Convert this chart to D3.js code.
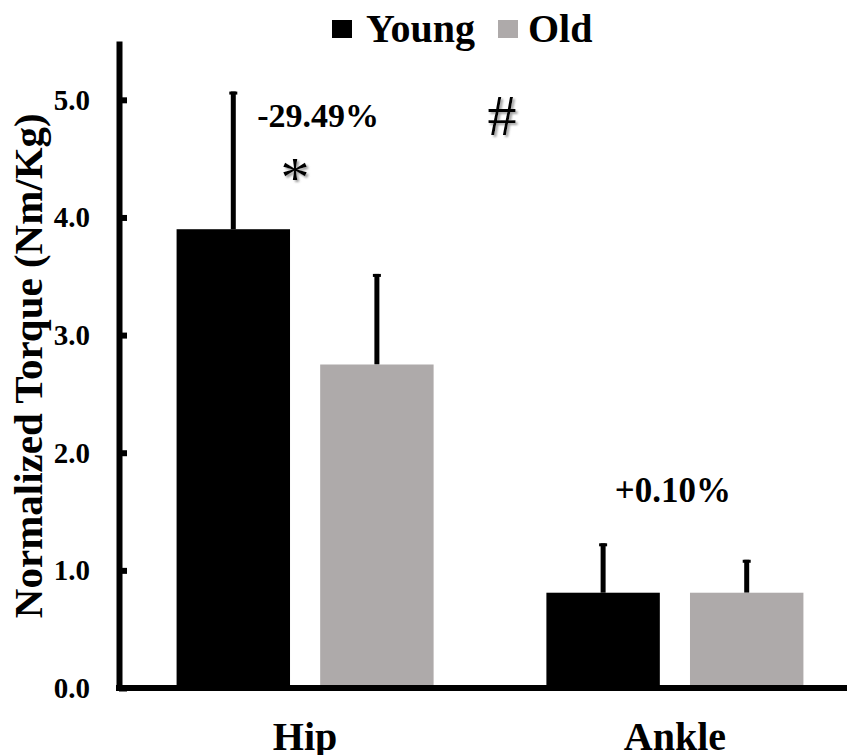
<!DOCTYPE html>
<html>
<head>
<meta charset="utf-8">
<script src="https://cdn.jsdelivr.net/npm/d3@7"></script>
<style>
    body { margin: 0; background: white; }
    svg text { font-family: "Liberation Serif", "Times New Roman", serif; font-weight: bold; fill: black; }
</style>
</head>
<body>
<div id="chart"></div>
<script>
const joints = ["Hip", "Ankle"]
const groups = ["Young", "Old"]
const meanTorque = {Hip: [3.90, 2.75], Ankle: [0.81, 0.81]}
const sdTorque = {Hip: [1.17, 0.77], Ankle: [0.42, 0.28]}
const yTicks = [0, 1, 2, 3, 4, 5]
const changeLabels = ["-29.49%", "+0.10%"]

const colors = {Young: "#000000", Old: "#aeaaaa"}

const width = 847, height = 755

const svg = d3.select("#chart").append("svg")
    .attr("width", width)
    .attr("height", height)

// soft shadow used on the * and # marks
svg.append("defs").append("filter")
    .attr("id", "shadow")
    .append("feDropShadow")
    .attr("dx", 2).attr("dy", 2).attr("stdDeviation", 1)
    .attr("flood-color", "#888").attr("flood-opacity", 0.8)

const x0 = d3.scaleBand()
    .domain(joints)
    .range([120, 860])
    .paddingInner(0.305)
    .paddingOuter(0.153)

const x1 = d3.scaleBand()
    .domain(groups)
    .range([0, x0.bandwidth()])
    .paddingInner(0.21)

const y = d3.scaleLinear()
    .domain([0, 5.5])
    .range([688, 41])

// bars + error bars
const rows = joints.flatMap(j => groups.map((g, i) => ({joint: j, group: g, mean: meanTorque[j][i], sd: sdTorque[j][i]})))

const bar = svg.append("g").selectAll("g")
    .data(rows).enter().append("g")
    .attr("transform", d => "translate(" + (x0(d.joint) + x1(d.group)) + ",0)")

bar.append("line")
    .attr("x1", x1.bandwidth() / 2)
    .attr("x2", x1.bandwidth() / 2)
    .attr("y1", d => y(d.mean))
    .attr("y2", d => y(d.mean + d.sd))
    .attr("stroke", "black")
    .attr("stroke-width", 5)

bar.append("rect")
    .attr("x", x1.bandwidth() / 2 - 4)
    .attr("y", d => y(d.mean + d.sd))
    .attr("width", 8)
    .attr("height", 3)
    .attr("fill", "black")

bar.append("rect")
    .attr("x", 0)
    .attr("y", d => y(d.mean))
    .attr("width", x1.bandwidth())
    .attr("height", d => y(0) - y(d.mean))
    .attr("fill", d => colors[d.group])

// axes
const yAxis = svg.append("g")
    .attr("transform", "translate(119,0)")
    .call(d3.axisLeft(y).tickValues(yTicks).tickFormat(d3.format(".1f"))
        .tickSizeInner(-8).tickSizeOuter(0).tickPadding(29))
yAxis.select(".domain").attr("stroke-width", 6)
yAxis.selectAll(".tick line").attr("stroke-width", 6)
yAxis.selectAll(".tick text").style("font-size", "29px")

const xAxis = svg.append("g")
    .attr("transform", "translate(0," + y(0) + ")")
    .call(d3.axisBottom(x0).tickSize(0).tickSizeOuter(0).tickPadding(34))
xAxis.select(".domain").attr("stroke-width", 6).attr("d", "M116,0H847")
xAxis.selectAll(".tick text").style("font-size", "40px")

svg.append("text")
    .attr("transform", "translate(42," + y(2.74) + ") rotate(-90)")
    .attr("text-anchor", "middle")
    .style("font-size", "41px")
    .text("Normalized Torque (Nm/Kg)")

// legend
const legend = svg.append("g").selectAll("g")
    .data(groups).enter().append("g")
    .attr("transform", (d, i) => "translate(" + [332, 498][i] + ",20)")
legend.append("rect")
    .attr("width", 20).attr("height", 18)
    .attr("fill", d => colors[d])
legend.append("text")
    .attr("x", (d, i) => [34, 30][i]).attr("y", 22)
    .style("font-size", "40px")
    .text(d => d)

// annotations
svg.selectAll("text.change")
    .data(changeLabels).enter().append("text")
    .attr("class", "change")
    .attr("x", (d, i) => x0(joints[i]) + x0.bandwidth() / 2 + [13, -2][i])
    .attr("y", (d, i) => y([4.77, 1.58][i]))
    .attr("text-anchor", "middle")
    .style("font-size", (d, i) => ["34px", "35px"][i])
    .text(d => d)

function mark(txt, cx, cy) {
    svg.append("text").attr("x", cx).attr("y", cy)
        .attr("text-anchor", "middle")
        .attr("filter", "url(#shadow)")
        .style("font-size", "58px").style("font-weight", "normal")
        .text(txt)
}
mark("*", 295, y(4.17))
mark("#", 502, y(4.7))
</script>
</body>
</html>
